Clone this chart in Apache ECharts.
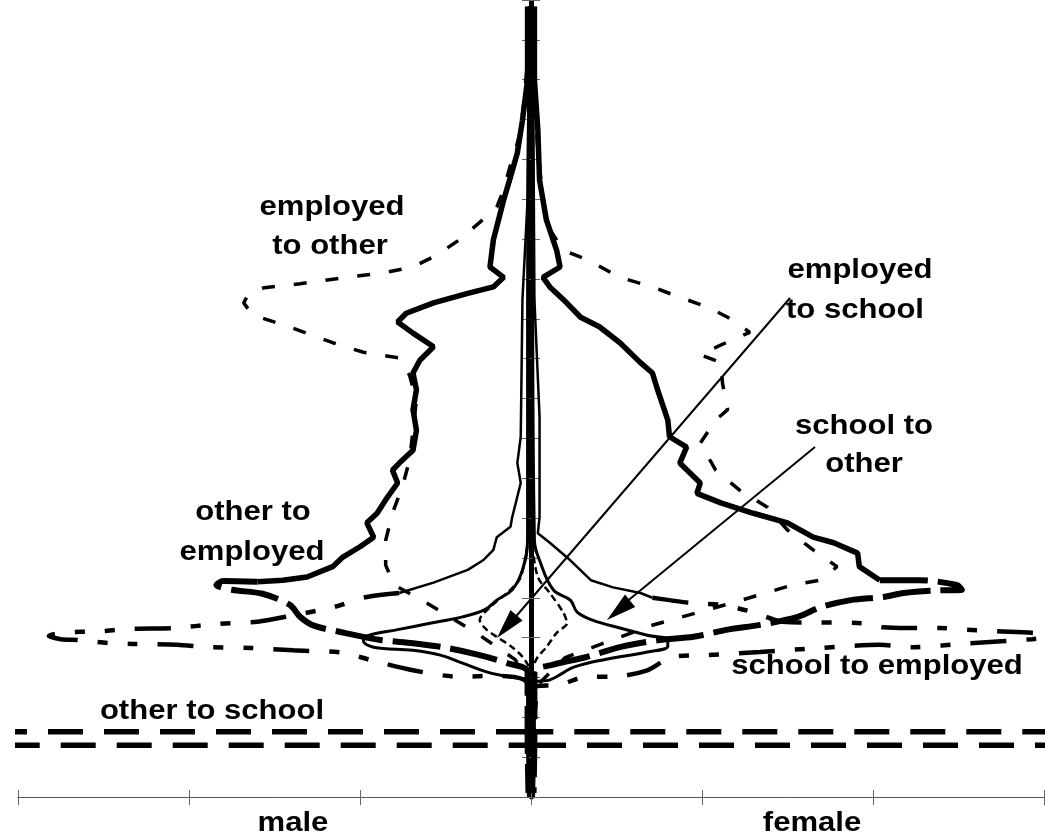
<!DOCTYPE html>
<html style="height: 100%">
<head>
    <meta charset="UTF-8">
    <script type="text/javascript" src="https://cdn.jsdelivr.net/npm/echarts@6/dist/echarts.min.js"></script>
    <style type="text/css">
        body {margin:0; padding:0; overflow:hidden; background:#fff}
    </style>
</head>
<body>
<div id="container" style="width:1045px;height:837px"></div>
<script type="text/javascript">
    // every point is [share, age]; male curves are mirrored to the left
    var empOtherMale = [[0.01,99.2],[0.02,92.5],[0.04,87.5],[0.06,83.7],[0.09,81.2],[0.12,79.3],[0.16,76.2],[0.20,74.0],[0.30,72.1],[0.42,69.9],[0.55,68.0],[0.69,66.5],[0.88,65.7],[1.08,65.2],[1.35,64.4],[1.56,63.9],[1.65,63.2],[1.68,62.0],[1.63,60.5],[1.39,58.8],[1.16,57.0],[0.98,55.8],[0.77,55.1],[0.71,52.9],[0.67,49.8],[0.69,46.0],[0.71,42.3],[0.75,39.1],[0.81,35.6],[0.85,32.2],[0.85,29.1],[0.80,26.6],[0.59,24.1],[0.30,20.3],[0.09,17.2],[0.02,14.1],[0.01,7.2],[0.01,0.3]];
    var empOtherFemale = [[0.01,99.2],[0.02,87.5],[0.04,81.2],[0.07,74.9],[0.11,71.2],[0.19,68.6],[0.33,67.4],[0.52,65.2],[0.71,64.0],[0.87,62.7],[1.03,61.5],[1.15,60.2],[1.28,58.3],[1.20,57.6],[1.09,56.5],[0.99,55.5],[1.11,54.5],[1.12,51.9],[1.15,48.6],[1.08,47.3],[0.99,44.4],[1.08,41.0],[1.22,38.5],[1.38,36.4],[1.50,33.5],[1.65,31.0],[1.79,28.9],[1.69,27.2],[1.53,26.6],[1.20,24.5],[0.70,21.5],[0.20,17.5],[0.04,14.1],[0.01,7.2],[0.01,0.3]];

    var othEmpMaleTop = [[0.02,99.2],[0.02,90.0],[0.05,84.9],[0.08,80.8],[0.12,77.8],[0.16,74.9],[0.19,72.4],[0.22,69.9],[0.24,66.5],[0.16,65.2],[0.22,64.0],[0.37,63.2],[0.57,62.0],[0.73,60.7],[0.78,59.6],[0.69,58.2],[0.57,56.5],[0.65,54.8],[0.69,53.2],[0.67,51.1],[0.69,48.6],[0.67,46.0],[0.69,43.5],[0.77,41.9],[0.81,41.0],[0.78,39.4],[0.84,37.6],[0.90,35.6],[0.96,34.4],[0.92,32.6],[1.00,31.4],[1.10,30.1],[1.16,28.9],[1.31,27.6],[1.45,27.2],[1.60,27.0]];
    var othEmpMaleLow = [[1.60,27.0],[1.80,27.1],[1.84,26.6],[1.75,26.0],[1.57,25.5],[1.41,24.1],[1.35,22.6],[1.27,21.5],[1.09,20.6],[0.88,19.7],[0.69,19.3],[0.49,18.7],[0.30,17.8],[0.14,16.8],[0.02,15.7],[0.02,8.0],[0.015,0.5]];
    var othEmpFemaleTop = [[0.02,99.2],[0.02,90.0],[0.04,83.7],[0.05,77.4],[0.09,72.4],[0.15,68.6],[0.17,66.5],[0.07,65.2],[0.11,64.0],[0.19,62.4],[0.29,60.2],[0.40,59.0],[0.52,57.0],[0.64,54.5],[0.71,53.2],[0.74,51.1],[0.80,47.3],[0.81,45.2],[0.91,43.9],[0.87,41.9],[0.99,39.4],[0.97,38.1],[1.11,36.9],[1.30,35.6],[1.50,34.4],[1.65,32.6],[1.77,31.9],[1.91,30.6],[1.92,28.9],[2.04,27.2]];
    var othEmpFemaleLow = [[2.04,27.2],[2.27,27.2],[2.49,26.6],[2.52,26.0],[2.35,25.9],[2.18,25.6],[2.06,25.1],[1.87,24.7],[1.69,23.8],[1.56,22.6],[1.34,21.6],[1.15,21.0],[0.95,20.1],[0.75,19.7],[0.52,18.8],[0.33,17.6],[0.13,16.6],[0.02,15.7],[0.02,8.0],[0.015,0.5]];

    var schEmpMaleTop = [[0.01,99.2],[0.02,74.9],[0.05,62.4],[0.06,45.2],[0.08,41.9],[0.06,39.4],[0.11,35.1],[0.12,33.9],[0.20,32.6],[0.22,31.0],[0.28,29.7],[0.37,28.5],[0.57,26.9],[0.77,25.6]];
    var schEmpMaleLow = [[0.77,25.6],[0.96,25.1],[1.16,23.8],[1.39,22.8],[1.60,22.0],[1.84,21.7],[2.09,21.2],[2.33,21.1],[2.52,20.8],[2.74,20.6],[2.82,20.2],[2.75,19.8],[2.65,19.7],[2.46,19.3],[2.33,19.2],[2.07,19.1],[1.89,18.8],[1.64,18.7],[1.39,18.4],[1.10,18.1],[0.94,17.2],[0.69,15.9],[0.42,15.1],[0.20,15.2],[0.02,14.1],[0.01,0.5]];
    var schEmpFemaleTop = [[0.01,99.2],[0.02,62.4],[0.05,47.7],[0.05,35.1],[0.04,33.1],[0.11,31.9],[0.23,29.7],[0.35,27.2],[0.48,26.3],[0.64,25.6],[0.71,25.0]];
    var schEmpFemaleLow = [[0.71,25.0],[0.81,24.7],[0.95,24.3],[1.11,24.1],[1.30,23.2],[1.47,22.0],[1.94,21.8],[2.06,21.3],[2.20,21.2],[2.39,21.2],[2.55,21.0],[2.73,20.8],[2.93,20.6],[3.09,20.2],[2.93,19.8],[2.57,19.3],[2.23,18.8],[2.04,19.1],[1.69,18.7],[1.34,18.2],[1.03,17.8],[0.83,17.6],[0.68,15.9],[0.48,15.1],[0.33,15.1],[0.17,14.1],[0.01,13.7],[0.01,0.5]];

    var schOtherMale = [[0.01,99.2],[0.02,62.4],[0.02,32.2],[0.05,28.5],[0.11,26.0],[0.20,24.7],[0.27,23.5],[0.40,22.6],[0.59,21.8],[0.78,21.0],[0.96,20.2],[0.98,19.6],[0.92,18.8],[0.69,18.4],[0.53,17.8],[0.40,16.8],[0.26,15.7],[0.14,15.1],[0.02,14.4],[0.02,7.2],[0.015,0]];
    var schOtherFemale = [[0.01,99.2],[0.01,62.4],[0.02,32.2],[0.05,29.7],[0.13,26.0],[0.23,24.7],[0.27,23.2],[0.36,22.2],[0.52,21.2],[0.68,20.3],[0.80,19.7],[0.80,18.9],[0.68,18.2],[0.42,17.2],[0.25,16.3],[0.19,15.6],[0.11,14.7],[0.02,14.3],[0.02,7.2],[0.015,0]];

    var empSchMale = [[0.01,99.2],[0.01,49.8],[0.02,32.2],[0.06,27.6],[0.12,26.0],[0.24,23.8],[0.30,22.2],[0.26,21.0],[0.20,20.1],[0.11,18.8],[0.05,17.6],[0.01,16.3]];
    var empSchFemale = [[0.01,99.2],[0.01,49.8],[0.01,32.2],[0.04,27.6],[0.11,25.6],[0.19,23.1],[0.21,21.8],[0.15,20.6],[0.09,18.8],[0.04,17.6],[0.01,16.3]];

    var othSchMale = [[0,8.2],[3.12,8.2],[3.16,7.35],[3.12,6.5],[0,6.5]];
    var othSchFemale = [[0,6.5],[3.12,6.5],[3.16,7.35],[3.12,8.2],[0,8.2]];

    var sideLabels = ['male', 'female'];

    var myChart = echarts.init(document.getElementById('container'));

    function left(arr) {
        return arr.map(function (p) { return [-p[0], p[1]]; });
    }
    function curve(data, width, dash, smooth, clip) {
        return {
            type: 'line',
            data: data,
            symbol: 'none',
            silent: true,
            smooth: smooth || false,
            clip: clip !== false,
            lineStyle: {color: '#000', width: width, type: dash || 'solid'}
        };
    }
    function label(text, x, y) {
        return {
            type: 'text', x: x, y: y, scaleX: 1.15,
            style: {
                text: text, fill: '#000',
                fontSize: 27, fontWeight: 'bold', fontFamily: '"Liberation Sans", Arial, sans-serif',
                align: 'center', verticalAlign: 'middle',
                textAlign: 'center', textVerticalAlign: 'middle'
            }
        };
    }

    var dashA = [13, 19];
    var dashB = [48, 10];
    var dashC = [36, 20, 10, 20, 10, 20];
    var dashE = [7, 4];
    var dashF = [35, 21];

    var series = [
        curve(left(othSchMale), 5.5, dashF, false, false),
        curve(othSchFemale, 5.5, dashF, false, false),
        curve(left(empOtherMale), 3.5, dashA),
        curve(empOtherFemale, 3.5, dashA),
        curve(left(othEmpMaleTop), 5.5),
        curve(othEmpFemaleTop, 5.5),
        curve(left(othEmpMaleLow), 6, dashB, 0.3),
        curve(othEmpFemaleLow, 6, dashB, 0.3),
        curve(left(schEmpMaleTop), 2.5),
        curve(schEmpFemaleTop, 2.5),
        curve(left(schEmpMaleLow), 4.5, dashC, 0.3),
        curve(schEmpFemaleLow, 4.5, dashC, 0.3),
        curve(left(schOtherMale), 3, null, 0.4),
        curve(schOtherFemale, 3, null, 0.4),
        curve(left(empSchMale), 2.5, dashE, 0.3),
        curve(empSchFemale, 2.5, dashE, 0.3)
    ];

    var tickStyle = {color: '#666', width: 1};
    var option = {
        animation: false,
        backgroundColor: '#fff',
        grid: {left: 18, right: 1, top: 0, bottom: 40},
        xAxis: [{
            type: 'value', min: -3, max: 3, interval: 1, position: 'bottom',
            axisLine: {onZero: false, lineStyle: {color: '#555', width: 1}},
            axisTick: {length: 8, lineStyle: tickStyle},
            axisLabel: {show: false}, splitLine: {show: false}
        }, {
            type: 'value', min: -3, max: 3, interval: 1, position: 'bottom',
            axisLine: {show: false, onZero: false},
            axisTick: {inside: true, length: 7, lineStyle: tickStyle},
            axisLabel: {show: false}, splitLine: {show: false}
        }],
        yAxis: [{
            type: 'value', min: 0, max: 100, interval: 5, position: 'left',
            axisLine: {onZero: true, lineStyle: {color: '#000', width: 5}},
            axisTick: {length: 9, lineStyle: tickStyle},
            axisLabel: {show: false}, splitLine: {show: false}
        }, {
            type: 'value', min: 0, max: 100, interval: 5, position: 'right',
            axisLine: {show: false, onZero: true},
            axisTick: {length: 9, lineStyle: tickStyle},
            axisLabel: {show: false}, splitLine: {show: false}
        }],
        graphic: [
            label('employed', 332, 208),
            label('to other', 330, 247),
            label('employed', 860, 271),
            label('to school', 855, 311),
            label('school to', 864, 427),
            label('other', 864, 465),
            label('other to', 253, 513),
            label('employed', 252, 553),
            label('school to employed', 877, 667),
            label('other to school', 212, 712),
            label(sideLabels[0], 293, 824),
            label(sideLabels[1], 812, 824),
            {type: 'line', shape: {x1: 790, y1: 298, x2: 512, y2: 621}, style: {stroke: '#000', lineWidth: 2}},
            {type: 'polygon', shape: {points: [[497, 638], [522.6, 620.5], [510.5, 610.1]]}, style: {fill: '#000'}},
            {type: 'line', shape: {x1: 815, y1: 447, x2: 625, y2: 603}, style: {stroke: '#000', lineWidth: 2}},
            {type: 'polygon', shape: {points: [[607, 620], [635.2, 606.9], [625.0, 594.6]]}, style: {fill: '#000'}}
        ],
        series: series
    };
    myChart.setOption(option);
</script>
</body>
</html>
